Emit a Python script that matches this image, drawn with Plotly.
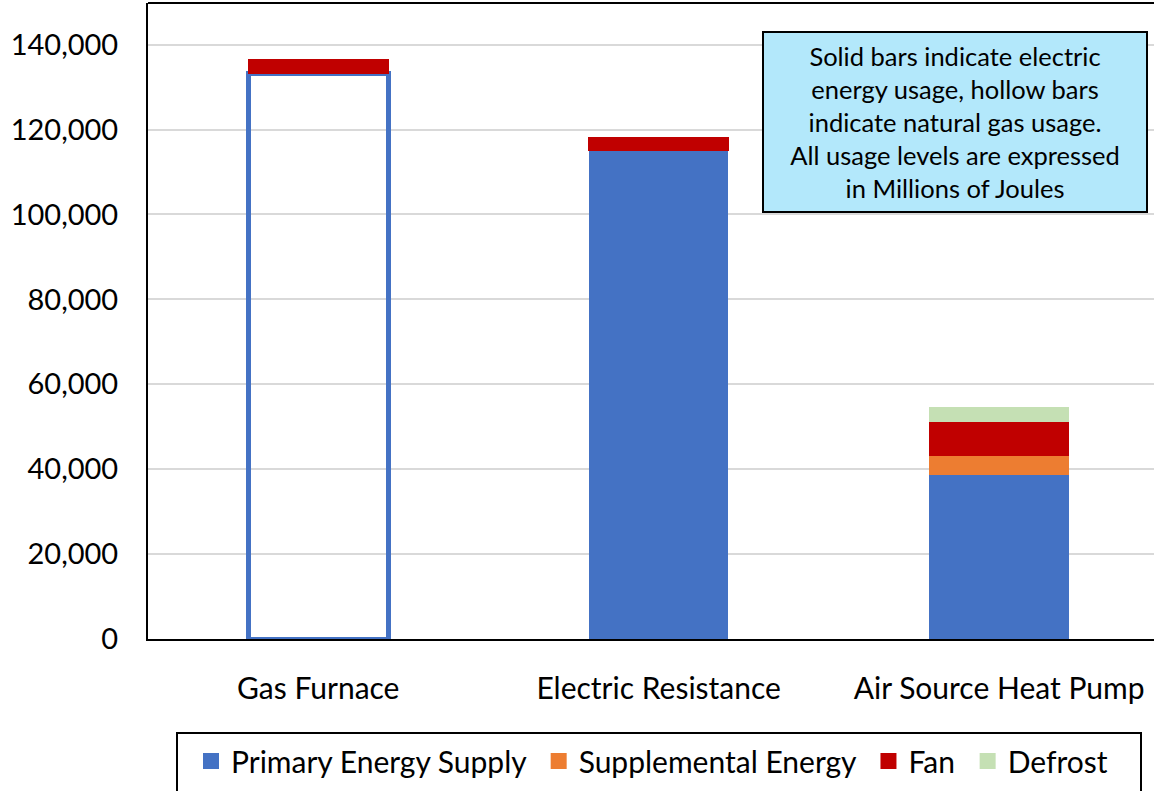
import plotly.graph_objects as go

# Heating systems compared (energy in millions of joules)
systems = ["Gas Furnace", "Electric Resistance", "Air Source Heat Pump"]
primary_energy = [133300, 115000, 38600]
supplemental_energy = [0, 0, 4550]
fan_energy = [3100, 3150, 8000]
defrost_energy = [0, 0, 3500]

series_names = ["Primary Energy Supply", "Supplemental Energy", "Fan", "Defrost"]

y_ticks = [0, 20000, 40000, 60000, 80000, 100000, 120000, 140000]

BLUE = "#4472C4"
ORANGE = "#ED7D31"
RED = "#C00000"
GREEN = "#C5E0B4"
series_colors = [BLUE, ORANGE, RED, GREEN]
FONT = "Lato"

# plot area spans pixels 148..1154 horizontally and 3..639 vertically
PX_L, PX_W, PX_BOT, PX_H = 148, 1006, 639, 636


def px_x(px):
    return (px - PX_L) / PX_W


def px_y(py):
    return (PX_BOT - py) / PX_H


fig = go.Figure()

# Gas furnace primary supply is natural gas -> drawn hollow
fig.add_trace(go.Bar(
    name=series_names[0], x=systems, y=primary_energy, showlegend=False,
    marker=dict(color=["rgba(255,255,255,0)", BLUE, BLUE],
                line=dict(color=[BLUE, BLUE, BLUE], width=[5, 0, 0])),
))
fig.add_trace(go.Bar(name=series_names[1], x=systems, y=supplemental_energy, showlegend=False,
                     marker=dict(color=ORANGE, line=dict(width=0))))
fig.add_trace(go.Bar(name=series_names[2], x=systems, y=fan_energy, showlegend=False,
                     marker=dict(color=RED, line=dict(color=RED, width=1))))
fig.add_trace(go.Bar(name=series_names[3], x=systems, y=defrost_energy, showlegend=False,
                     marker=dict(color=GREEN, line=dict(width=0))))

# Legend swatches: solid squares for every series
for i, (name, color) in enumerate(zip(series_names, series_colors)):
    label = name + ("\u00a0" if i < len(series_names) - 1 else "")
    fig.add_trace(go.Scatter(
        name=label, x=[None], y=[None], mode="markers", showlegend=True,
        marker=dict(symbol="square", size=18, color=color, line=dict(width=0)),
    ))

fig.update_layout(
    width=1154, height=791,
    margin=dict(l=PX_L, r=0, t=3, b=152),
    paper_bgcolor="white", plot_bgcolor="white",
    barmode="stack", bargap=0.59,
    font=dict(family=FONT, color="#000000"),
    showlegend=True,
    legend=dict(
        orientation="h", x=px_x(191), xanchor="left", y=px_y(735), yanchor="top",
        font=dict(family=FONT, size=30, color="#000000"),
        bgcolor="rgba(0,0,0,0)", borderwidth=0,
        itemsizing="trace", traceorder="normal",
    ),
    xaxis=dict(
        type="category", categoryorder="array", categoryarray=systems,
        range=[-0.5, 2.455], showgrid=False,
        showline=True, linecolor="#000000", linewidth=2,
        ticks="", tickfont=dict(family=FONT, size=30, color="#000000"),
        ticklabelstandoff=22,
    ),
    yaxis=dict(
        range=[0, 149800], tickvals=y_ticks, tickformat=",",
        showgrid=True, gridcolor="#D9D9D9", gridwidth=2,
        showline=True, linecolor="#000000", linewidth=2,
        zeroline=False, ticks="",
        tickfont=dict(family=FONT, size=29, color="#000000"),
        ticklabelstandoff=22,
    ),
    shapes=[
        # top edge of the plot frame
        dict(type="line", xref="paper", yref="paper", x0=0, x1=1, y0=1, y1=1,
             line=dict(color="#000000", width=2)),
        # legend frame
        dict(type="rect", xref="paper", yref="paper",
             x0=px_x(177), x1=px_x(1141), y0=px_y(733), y1=px_y(805),
             line=dict(color="#000000", width=2), fillcolor="white", layer="above"),
    ],
    annotations=[dict(
        xref="paper", yref="paper", x=px_x(955), y=px_y(122),
        xanchor="center", yanchor="middle",
        text=("Solid bars indicate electric<br>energy usage, hollow bars<br>"
              "indicate natural gas usage.<br>All usage levels are expressed<br>"
              "in Millions of Joules"),
        showarrow=False, align="center",
        font=dict(family=FONT, size=25.5, color="#000000"),
        bgcolor="#B3E8FB", bordercolor="#000000", borderwidth=2,
        width=382, height=178, borderpad=0,
    )],
)

fig.write_html("out.html")
